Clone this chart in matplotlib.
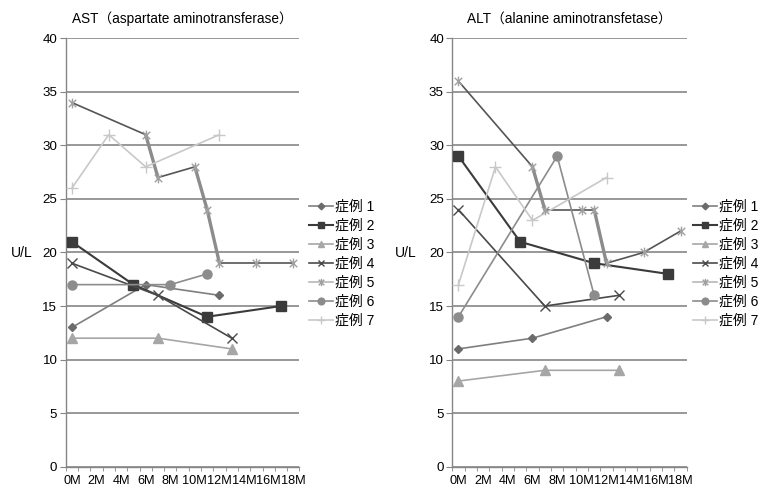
import matplotlib
matplotlib.use("Agg")
import matplotlib.pyplot as plt
import numpy as np
from matplotlib.lines import Line2D
from matplotlib.path import Path

plt.rcParams["font.family"] = ["Liberation Sans", "Noto Sans CJK JP"]

# months since start (category positions 0M..18M)
months_1 = [0, 6, 12]
months_2 = [0, 5, 11, 17]
months_3 = [0, 7, 13]
months_4 = [0, 7, 13]
months_5 = [0, 6, 7, 10, 11, 12, 15, 18]
months_6 = [0, 8, 11]
months_7 = [0, 3, 6, 12]

ast_1 = [13, 17, 16]
ast_2 = [21, 17, 14, 15]
ast_3 = [12, 12, 11]
ast_4 = [19, 16, 12]
ast_5 = [34, 31, 27, 28, 24, 19, 19, 19]
ast_6 = [17, 17, 18]
ast_7 = [26, 31, 28, 31]

alt_1 = [11, 12, 14]
alt_2 = [29, 21, 19, 18]
alt_3 = [8, 9, 9]
alt_4 = [24, 15, 16]
alt_5 = [36, 28, 24, 24, 24, 19, 20, 22]
alt_6 = [14, 29, 16]
alt_7 = [17, 28, 23, 27]

# segments of case 5 drawn as the thick grey line
ast_5_thick = [1, 3, 4]
alt_5_thick = [1, 4]

case_labels = ["症例 1", "症例 2", "症例 3", "症例 4", "症例 5", "症例 6", "症例 7"]
month_ticks = list(range(0, 19, 2))

# Excel-like "star" marker: x with a vertical bar
star = Path(
    [(-1, -1), (1, 1), (-1, 1), (1, -1), (0, -1.3), (0, 1.3)],
    [Path.MOVETO, Path.LINETO, Path.MOVETO, Path.LINETO, Path.MOVETO, Path.LINETO],
)

styles = [
    dict(color="#7f7f7f", marker="D", ms=4.5, mfc="#6b6b6b", mec="#6b6b6b", lw=1.2),
    dict(color="#3b3b3b", marker="s", ms=6.5, lw=1.5),
    dict(color="#a6a6a6", marker="^", ms=6.5, lw=1.2),
    dict(color="#4a4a4a", marker="x", ms=6.5, mew=1.0, lw=1.2),
    None,
    dict(color="#8c8c8c", marker="o", ms=6.5, lw=1.2),
    dict(color="#c8c8c8", marker="+", ms=8, mew=1.0, lw=1.2),
]
star_color = "#a0a0a0"

grid_color = "#868686"

fig = plt.figure(figsize=(7.63, 4.90), dpi=100)


def draw_panel(rect, title, series, thick, ylabel_x, legend_x):
    ax = fig.add_axes(rect)
    handles = []
    for i, (xs, ys) in enumerate(series):
        if i == 4:
            for k in range(len(xs) - 1):
                if k in thick:
                    ax.plot(xs[k:k + 2], ys[k:k + 2], color="#8c8c8c", lw=2.4, zorder=3)
                else:
                    ax.plot(xs[k:k + 2], ys[k:k + 2], color="#555555", lw=1.2, zorder=3)
            ax.plot(xs, ys, ls="none", marker=star, ms=7, mew=1.0,
                    mec=star_color, mfc="none", zorder=4)
            handles.append(Line2D([], [], color="#b8b8b8", lw=1.2, marker=star,
                                  ms=7, mew=1.0, mec=star_color, mfc="none"))
        else:
            st = styles[i]
            (h,) = ax.plot(xs, ys, zorder=3 + i * 0.1, **st)
            handles.append(h)

    ax.set_xlim(-0.5, 18.5)
    ax.set_ylim(0, 40)
    ax.set_yticks(np.arange(0, 41, 5))
    ax.set_xticks(month_ticks)
    ax.set_xticklabels([f"{m}M" for m in month_ticks], fontsize=9.2)
    ax.set_xticks(np.arange(-0.5, 19, 1), minor=True)
    ax.tick_params(axis="x", which="major", length=0, pad=6)
    ax.tick_params(axis="x", which="minor", length=3, color=grid_color)
    ax.tick_params(axis="y", length=4, color=grid_color, labelsize=9.6, pad=2)
    ax.yaxis.grid(True, color=grid_color, lw=1.2)
    ax.set_axisbelow(True)
    for s in ["top", "right"]:
        ax.spines[s].set_visible(False)
    for s in ["left", "bottom"]:
        ax.spines[s].set_color(grid_color)
        ax.spines[s].set_linewidth(1.0)
    ax.set_title(title, fontsize=9.8, pad=11)

    fig.text(ylabel_x / 763, 1 - 253 / 490, "U/L", ha="center", va="center", fontsize=10)

    ax.legend(handles, case_labels, loc="upper left",
              bbox_to_anchor=(legend_x / 763, 1 - 200 / 490),
              bbox_transform=fig.transFigure, frameon=False, fontsize=10,
              handlelength=1.7, handletextpad=0.2, labelspacing=0.36,
              borderpad=0, borderaxespad=0, numpoints=1, markerscale=0.75)
    return ax


draw_panel([65.7 / 763, 23.3 / 490, 233.7 / 763, 428.4 / 490],
           "AST（aspartate aminotransferase）",
           [(months_1, ast_1), (months_2, ast_2), (months_3, ast_3), (months_4, ast_4),
            (months_5, ast_5), (months_6, ast_6), (months_7, ast_7)],
           ast_5_thick, 21.5, 309)

draw_panel([452.3 / 763, 23.3 / 490, 234.4 / 763, 428.4 / 490],
           "ALT（alanine aminotransfetase）",
           [(months_1, alt_1), (months_2, alt_2), (months_3, alt_3), (months_4, alt_4),
            (months_5, alt_5), (months_6, alt_6), (months_7, alt_7)],
           alt_5_thick, 406, 693)

fig.savefig("out.png", dpi=100)
